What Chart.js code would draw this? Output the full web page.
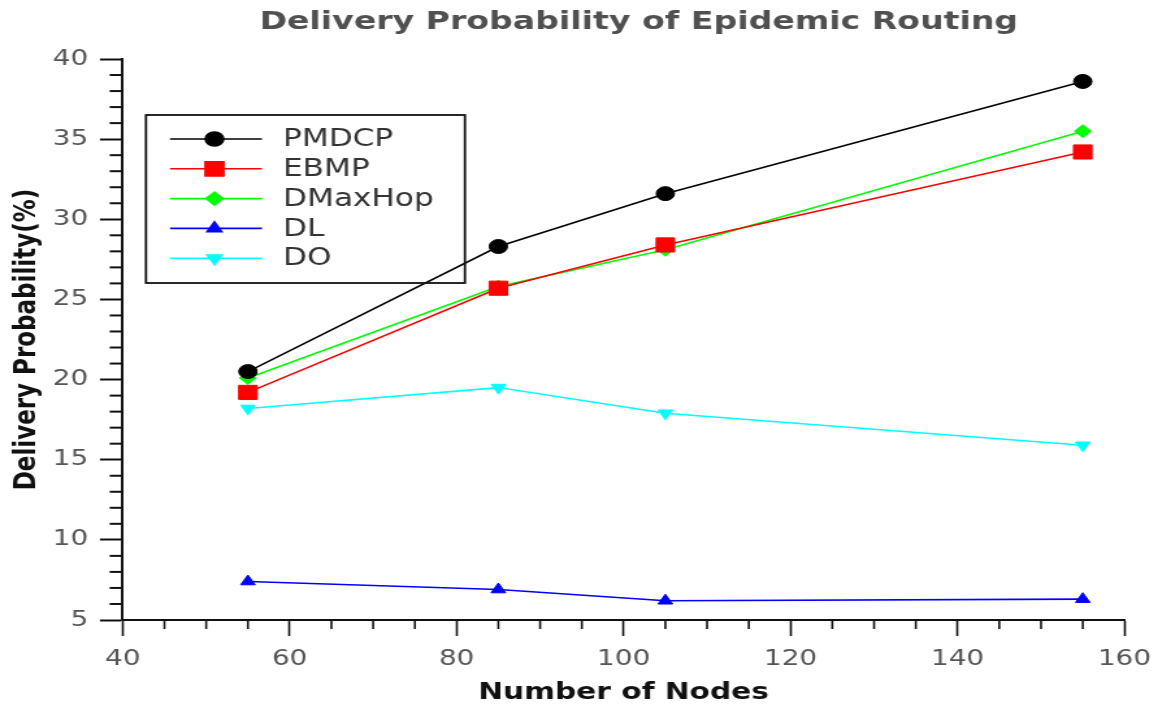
<!DOCTYPE html>
<html>
<head>
<meta charset="utf-8">
<title>Delivery Probability of Epidemic Routing</title>
<script src="https://cdn.jsdelivr.net/npm/chart.js@4.4.1/dist/chart.umd.min.js"></script>
<style>
  html, body { margin: 0; padding: 0; background: #fff; overflow: hidden; }
  /* the source figure is stretched sideways, so the canvas is drawn narrow and widened */
  #chart { display: block; transform: scaleX(1.2997); transform-origin: 0 0; }
</style>
</head>
<body>
<canvas id="chart" width="891" height="711"></canvas>
<script>
// Chart data
const nodes = [55, 85, 105, 155];
const pmdcp = [20.5, 28.3, 31.6, 38.6];
const ebmp = [19.2, 25.7, 28.4, 34.2];
const dmaxhop = [20.1, 25.8, 28.1, 35.5];
const dl = [7.4, 6.9, 6.2, 6.3];
const dO = [18.2, 19.5, 17.9, 15.9];

const seriesNames = ['PMDCP', 'EBMP', 'DMaxHop', 'DL', 'DO'];
const seriesValues = [pmdcp, ebmp, dmaxhop, dl, dO];
const seriesColors = ['#000000', '#ff0000', '#00ff00', '#0000ff', '#00ffff'];
const seriesStyles = ['circle', 'rect', 'rectRot', 'triangle', 'triangle'];
const seriesRadius = [7, 10, 6.5, 6.5, 6.5];
const seriesRotation = [0, 0, 0, 0, 180];

const xTicks = [40, 60, 80, 100, 120, 140, 160];
const yTicks = [5, 10, 15, 20, 25, 30, 35, 40];

const chartTitle = 'Delivery Probability of Epidemic Routing';
const xTitle = 'Number of Nodes';
const yTitle = 'Delivery Probability(%)';

Chart.defaults.font.family = '"DejaVu Sans", sans-serif';

// Build datasets
const datasets = seriesNames.map((name, i) => ({
  label: name,
  data: nodes.map((n, j) => ({ x: n, y: seriesValues[i][j] })),
  borderColor: seriesColors[i],
  backgroundColor: seriesColors[i],
  borderWidth: 1.6,
  pointStyle: seriesStyles[i],
  pointRadius: seriesRadius[i],
  pointRotation: seriesRotation[i],
  pointBorderWidth: 1,
  pointBackgroundColor: seriesColors[i],
  pointBorderColor: seriesColors[i],
  tension: 0,
  fill: false
}));

// Fallback in case helpers are not exposed
function markerAt(ctx, style, radius, rotation, x, y) {
  if (Chart.helpers && Chart.helpers.drawPoint) {
    Chart.helpers.drawPoint(ctx, { pointStyle: style, radius: radius, rotation: rotation, borderWidth: 1 }, x, y);
    return;
  }
  ctx.beginPath();
  ctx.arc(x, y, radius, 0, Math.PI * 2);
  ctx.fill();
}

// Title, minor ticks and boxed legend
const extrasPlugin = {
  id: 'extras',
  afterDraw(chart) {
    const ctx = chart.ctx;
    const xs = chart.scales.x;
    const ys = chart.scales.y;
    ctx.save();

    // minor ticks
    ctx.strokeStyle = '#111';
    ctx.lineWidth = 1.6;
    for (let v = 45; v < 160; v += 5) {
      if (v % 20 === 0) continue;
      const px = xs.getPixelForValue(v);
      ctx.beginPath();
      ctx.moveTo(px, ys.bottom);
      ctx.lineTo(px, ys.bottom + 9);
      ctx.stroke();
    }
    ctx.lineWidth = 2;
    for (let v = 6; v < 40; v++) {
      if (v % 5 === 0) continue;
      const py = ys.getPixelForValue(v);
      ctx.beginPath();
      ctx.moveTo(xs.left, py);
      ctx.lineTo(xs.left - 10, py);
      ctx.stroke();
    }

    // title
    ctx.fillStyle = '#505050';
    ctx.font = 'bold 25.5px "DejaVu Sans", sans-serif';
    ctx.textAlign = 'center';
    ctx.textBaseline = 'alphabetic';
    ctx.fillText(chartTitle, 491.5, 29);

    // legend box
    ctx.strokeStyle = '#111';
    ctx.lineWidth = 1.8;
    ctx.strokeRect(112.3, 115, 245.4, 168);
    ctx.font = '24px "DejaVu Sans", sans-serif';
    ctx.textAlign = 'left';
    ctx.textBaseline = 'middle';
    seriesNames.forEach((name, i) => {
      const y = 139 + i * 29.8;
      ctx.strokeStyle = seriesColors[i];
      ctx.fillStyle = seriesColors[i];
      ctx.lineWidth = 1.6;
      ctx.beginPath();
      ctx.moveTo(130.8, y);
      ctx.lineTo(201.5, y);
      ctx.stroke();
      markerAt(ctx, seriesStyles[i], seriesRadius[i], seriesRotation[i], 165, y);
      ctx.fillStyle = '#333';
      ctx.fillText(name, 217.7, y + 1);
    });
    ctx.restore();
  }
};

new Chart(document.getElementById('chart'), {
  type: 'line',
  data: { datasets: datasets },
  options: {
    responsive: false,
    animation: false,
    devicePixelRatio: 1,
    layout: { padding: { top: 59, right: 25.8, left: 0, bottom: 0 } },
    plugins: {
      legend: { display: false },
      title: { display: false },
      tooltip: { enabled: false }
    },
    scales: {
      x: {
        type: 'linear',
        min: 40,
        max: 160,
        afterFit: scale => {
          scale.height = 91;
          scale.paddingLeft = 0;
          scale.paddingRight = 0;
        },
        border: { display: true, color: '#111', width: 2 },
        grid: {
          drawOnChartArea: false,
          tickLength: 16,
          tickWidth: 1.6,
          tickColor: c => (xTicks.includes(c.tick.value) ? '#111' : 'rgba(0,0,0,0)')
        },
        ticks: {
          stepSize: 5,
          autoSkip: false,
          maxRotation: 0,
          padding: 11,
          color: '#555',
          font: { size: 21.5 },
          callback: v => (xTicks.includes(v) ? v : '')
        },
        title: {
          display: true,
          text: xTitle,
          color: '#111',
          font: { size: 22.8, weight: 'bold' },
          padding: { top: 0, bottom: 4 }
        }
      },
      y: {
        type: 'linear',
        min: 5,
        max: 40,
        afterFit: scale => { scale.width = 94.4; },
        border: { display: true, color: '#111', width: 2 },
        grid: {
          drawOnChartArea: false,
          tickLength: 17.5,
          tickWidth: 2,
          tickColor: c => (yTicks.includes(c.tick.value) ? '#111' : 'rgba(0,0,0,0)')
        },
        ticks: {
          stepSize: 1,
          autoSkip: false,
          padding: 9,
          color: '#555',
          font: { size: 21.5 },
          callback: v => (yTicks.includes(v) ? v : '')
        },
        title: {
          display: true,
          text: yTitle,
          color: '#111',
          font: { size: 23, weight: 'bold' },
          padding: { top: 7, bottom: 0 }
        }
      }
    }
  },
  plugins: [extrasPlugin]
});
</script>
</body>
</html>
